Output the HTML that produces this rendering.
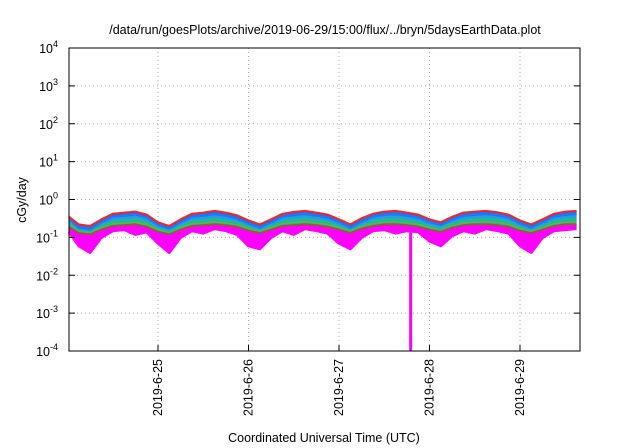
<!DOCTYPE html>
<html><head><meta charset="utf-8"><style>
body{margin:0;background:#fff;}
svg{display:block;font-family:"Liberation Sans",sans-serif;}
</style></head><body>
<svg id="chart" width="640" height="448" viewBox="0 0 640 448">
<rect width="640" height="448" fill="#fff"/>
<text x="325" y="34" font-size="12.5" text-anchor="middle" fill="#000">/data/run/goesPlots/archive/2019-06-29/15:00/flux/../bryn/5daysEarthData.plot</text>
<g id="grid"></g>
<g id="series"></g>
<rect x="69" y="48" width="511" height="303" fill="none" stroke="#000" stroke-width="1"/>
<g id="axes"></g>
<text transform="translate(26,200) rotate(-90)" font-size="12.5" text-anchor="middle">cGy/day</text>
<text x="324" y="442" font-size="12.5" text-anchor="middle">Coordinated Universal Time (UTC)</text>
</svg>
<script>
const hours=[0,3,6,9,12,15,18,21,24,27,30,33,36,39,42,45,48,51,54,57,60,63,66,69,72,75,78,81,84,87,90,93,96,99,102,105,108,111,114,117,120,123,126,129,132,135];
const redVals=[0.35,0.22,0.2,0.3,0.42,0.45,0.48,0.4,0.25,0.2,0.3,0.42,0.45,0.5,0.45,0.38,0.28,0.22,0.3,0.42,0.47,0.5,0.45,0.4,0.3,0.22,0.32,0.42,0.48,0.5,0.45,0.4,0.3,0.25,0.35,0.45,0.48,0.5,0.46,0.4,0.28,0.22,0.3,0.42,0.48,0.5];
const blueVals=[0.3,0.18,0.16,0.25,0.35,0.37,0.4,0.33,0.21,0.17,0.25,0.35,0.37,0.41,0.37,0.31,0.23,0.18,0.25,0.35,0.38,0.41,0.37,0.33,0.25,0.18,0.26,0.35,0.39,0.41,0.37,0.33,0.25,0.21,0.29,0.37,0.39,0.41,0.38,0.33,0.23,0.18,0.25,0.35,0.39,0.41];
const tealVals=[0.24,0.15,0.14,0.2,0.27,0.28,0.3,0.26,0.17,0.14,0.2,0.27,0.28,0.31,0.28,0.25,0.19,0.15,0.2,0.27,0.29,0.31,0.28,0.26,0.2,0.15,0.21,0.27,0.3,0.31,0.28,0.26,0.2,0.17,0.23,0.28,0.3,0.31,0.29,0.26,0.19,0.15,0.2,0.27,0.3,0.31];
const greenVals=[0.21,0.14,0.13,0.18,0.23,0.24,0.25,0.22,0.16,0.13,0.18,0.23,0.24,0.26,0.24,0.21,0.17,0.14,0.18,0.23,0.25,0.26,0.24,0.22,0.18,0.14,0.19,0.23,0.25,0.26,0.24,0.22,0.18,0.15,0.2,0.24,0.25,0.26,0.25,0.22,0.17,0.14,0.18,0.23,0.25,0.26];
const brownVals=[0.19,0.13,0.12,0.16,0.2,0.21,0.22,0.19,0.14,0.12,0.16,0.2,0.21,0.22,0.21,0.19,0.15,0.13,0.16,0.2,0.21,0.22,0.21,0.19,0.16,0.13,0.17,0.2,0.22,0.22,0.21,0.19,0.16,0.14,0.18,0.21,0.22,0.22,0.21,0.19,0.15,0.13,0.16,0.2,0.22,0.22];
const magentaVals=[0.14,0.06,0.04,0.1,0.15,0.16,0.12,0.14,0.07,0.04,0.1,0.15,0.13,0.17,0.15,0.12,0.06,0.05,0.1,0.15,0.12,0.17,0.15,0.13,0.07,0.05,0.1,0.15,0.16,0.13,0.15,0.14,0.08,0.06,0.11,0.15,0.13,0.17,0.15,0.13,0.06,0.04,0.1,0.15,0.16,0.17];
const spikeHours=[91];
const spikeVals=[0.0001];
const yTickExps=[4,3,2,1,0,-1,-2,-3,-4];
const xTickLabels=["2019-6-25","2019-6-26","2019-6-27","2019-6-28","2019-6-29"];
const xTickHours=[24,48,72,96,120];

const NS="http://www.w3.org/2000/svg";
const X0=69,X1=580,Y0=48,Y1=351;
const pxPerHour=90.5/24, originX=67.5;
function xScale(h){return originX+h*pxPerHour;}
function yScale(v){return Y1-(Math.log10(v)+4)*(Y1-Y0)/8;}
function mk(tag,attrs,parent){const e=document.createElementNS(NS,tag);for(const k in attrs)e.setAttribute(k,attrs[k]);parent.appendChild(e);return e;}
const grid=document.getElementById('grid'),axes=document.getElementById('axes'),ser=document.getElementById('series');

yTickExps.forEach(function(e){
  const y=yScale(Math.pow(10,e));
  if(e<4&&e>-4){const g=mk('line',{x1:X0,x2:X1,y1:y,y2:y,stroke:'#aaa','stroke-dasharray':'1,3','stroke-width':1},grid);
  
  }
  const t1=mk('line',{x1:X0,x2:X0+6,y1:y,y2:y,stroke:'#000'},axes);
  
  
  const t2=mk('line',{x1:X1,x2:X1-6,y1:y,y2:y,stroke:'#000'},axes);
  
  
  const tx=mk('text',{x:58,y:y+5,'font-size':'12.5','text-anchor':'end'},axes);
  
  
  tx.innerHTML='10<tspan dy="-6" font-size="9">'+e+'</tspan>';
});
xTickHours.forEach(function(h,i){
  const x=xScale(h);
  const g=mk('line',{x1:x,x2:x,y1:Y0,y2:Y1,stroke:'#aaa','stroke-dasharray':'1,3','stroke-width':1},grid);
  
  
  const t=mk('line',{x1:x,x2:x,y1:Y1,y2:Y1-6,stroke:'#000'},axes);
  
  
  const tx=mk('text',{transform:'translate('+(x+4)+',359) rotate(-90)','font-size':'12.5','text-anchor':'end'},axes);
  
  
  tx.textContent=xTickLabels[i];
});
function clampX(x){return Math.min(X1,Math.max(X0,x));}
function ptsOf(vals){return hours.map(function(h,i){return clampX(xScale(h)).toFixed(1)+','+yScale(vals[i]).toFixed(1);});}
function band(top,bot,color,name){
  const p=mk('polygon',{points:ptsOf(top).concat(ptsOf(bot).reverse()).join(' '),fill:color,stroke:'none'},ser);
  
  
}
function drawSeries(vals,color,name,w){
  const p=mk('polyline',{points:ptsOf(vals).join(' '),fill:'none',stroke:color,'stroke-width':w,'stroke-linejoin':'round'},ser);
  
  
}
band(redVals,blueVals,'#2070f0','band-blue');
band(blueVals,tealVals,'#20a0e0','band-cyan');
band(tealVals,brownVals,'#30b090','band-teal');
band(brownVals,magentaVals,'#ff00ff','band-magenta');
drawSeries(redVals,'#ff2020','series-red',2);
drawSeries(blueVals,'#1e78ff','series-blue',2);
drawSeries(tealVals,'#20b8a0','series-teal',2);
drawSeries(greenVals,'#50c040','series-green',1.5);
drawSeries(brownVals,'#a05050','series-brown',2);
drawSeries(magentaVals,'#ff00ff','series-magenta',3);
spikeHours.forEach(function(h,i){
  const x=xScale(h);
  const s=mk('line',{x1:x,x2:x,y1:yScale(0.15),y2:yScale(spikeVals[i]),stroke:'#ff00ff','stroke-width':3},ser);
  
  
});
</script>
</body></html>
